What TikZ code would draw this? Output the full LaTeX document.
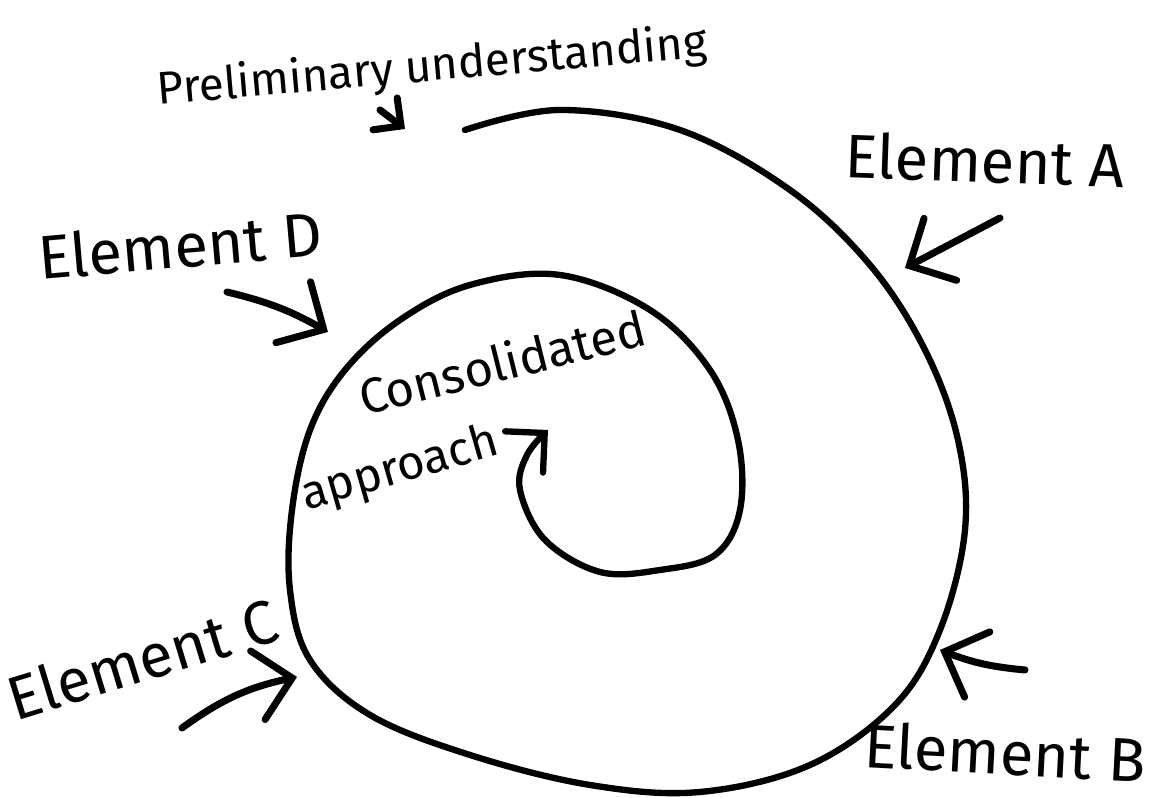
\documentclass[tikz,border=0pt]{standalone}
\usepackage{fontspec}
\setmainfont{Fira Sans}
\usepackage{tikz}
\usetikzlibrary{arrows.meta}

\begin{document}
\begin{tikzpicture}[
    spiral/.style={line width=1.8pt, line cap=round, line join=round},
    hand/.style={line width=2pt, line cap=round,
      -{Straight Barb[length=3.5mm, width=7mm, line cap=round]}},
    bigtext/.style={font=\fontsize{17.5}{20}\selectfont, inner sep=0pt},
    smalltext/.style={font=\fontsize{14}{16}\selectfont, inner sep=0pt}]
  \useasboundingbox (0,0) rectangle (11.62,7.98);

  % 1) Spiral
  \draw[spiral, -{Straight Barb[length=2.8mm, width=5.6mm, line cap=round]}]
    plot[smooth, tension=0.6] coordinates {
      (4.65,6.68) (5.60,6.88) (6.80,6.68) (7.90,6.08) (8.70,5.33)
      (9.25,4.48) (9.58,3.58) (9.65,2.68) (9.40,1.68) (8.95,0.93)
      (8.10,0.33) (7.00,0.06) (5.90,0.13) (4.70,0.43) (3.70,0.83)
      (3.10,1.38) (2.90,2.08) (2.92,2.88) (3.10,3.68) (3.45,4.28)
      (4.00,4.78) (4.70,5.13) (5.60,5.23) (6.50,4.88) (7.10,4.28)
      (7.38,3.58) (7.40,2.88) (7.15,2.43) (6.60,2.28) (6.00,2.26)
      (5.45,2.58) (5.20,3.08) (5.27,3.43) (5.48,3.68)};

  % 2) Labels
  \node[smalltext, font=\fontsize{13}{15}\selectfont, rotate=5] (prelim) at (4.32,7.30) {Preliminary understanding};
  \node[bigtext, rotate=-2] (elA) at (9.85,6.38) {Element A};
  \node[bigtext, rotate=-3] (elB) at (10.05,0.46) {Element B};
  \node[bigtext, rotate=17] (elC) at (1.42,1.39) {Element C};
  \node[bigtext, rotate=5] (elD) at (1.80,5.53) {Element D};
  \node[smalltext, rotate=14] (consol) at (5.02,4.36) {Consolidated};
  \node[smalltext, font=\fontsize{13.5}{16}\selectfont, rotate=16] (approach) at (4.00,3.28) {approach};

  % 3) Arrows onto the spiral
  \coordinate (prelim-from) at (3.80,6.88);
  \coordinate (prelim-to) at (4.05,6.69);
  \coordinate (elA-from) at (10.00,5.80);
  \coordinate (elA-to) at (9.05,5.30);
  \coordinate (elB-from) at (10.25,1.28);
  \coordinate (elB-to) at (9.40,1.48);
  \coordinate (elC-from) at (1.82,0.70);
  \coordinate (elC-to) at (2.97,1.21);
  \coordinate (elD-from) at (2.27,5.06);
  \coordinate (elD-to) at (3.28,4.66);

  \draw[hand, -{Straight Barb[length=2mm, width=4mm, line cap=round]}] (prelim-from) -- (prelim-to);
  \draw[hand] (elA-from) -- (elA-to);
  \draw[hand] (elB-from) to[bend left=8] (elB-to);
  \draw[hand] (elC-from) to[bend left=12] (elC-to);
  \draw[hand] (elD-from) to[bend left=8] (elD-to);
\end{tikzpicture}
\end{document}
